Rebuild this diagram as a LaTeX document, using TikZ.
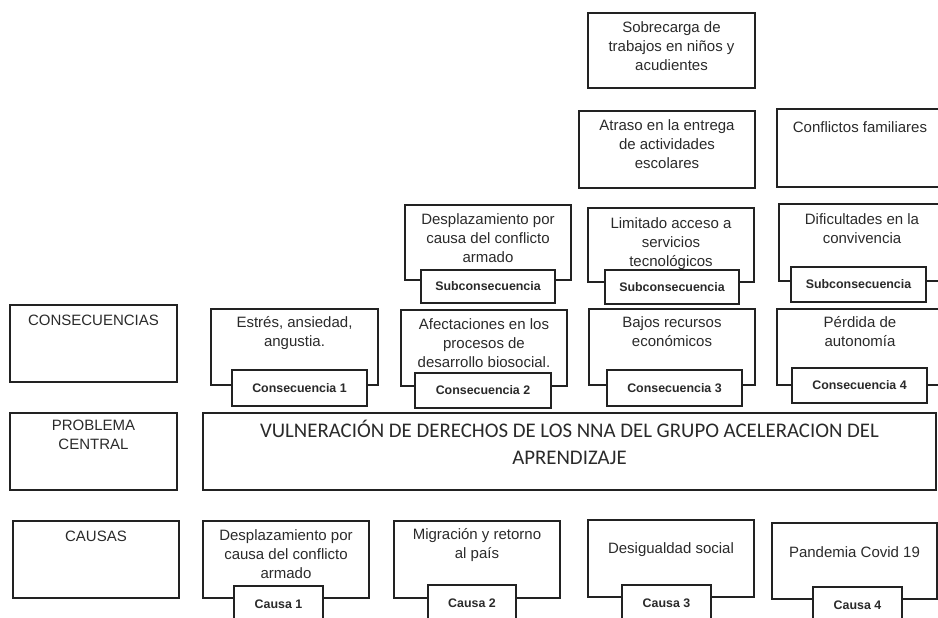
\documentclass[tikz,border=0pt]{standalone}
\usepackage{fontspec}
\setmainfont{Liberation Sans}
\newfontfamily\carlito{Carlito}
\usetikzlibrary{positioning}
\definecolor{trazo}{HTML}{222222}
\definecolor{letra}{HTML}{2a2a2a}
\tikzset{
  caja/.style    = {draw=trazo, line width=1.9pt, inner sep=0pt,
                    minimum width=166pt, minimum height=76pt},
  pestana/.style = {draw=trazo, line width=1.9pt, fill=white, inner sep=0pt,
                    minimum width=135pt, minimum height=35pt,
                    font=\fontsize{12.4}{14}\selectfont\bfseries, text=letra},
  % el primer renglon queda en la linea base del punto dado
  texto/.style   = {anchor=north, yshift=13.3pt, align=center, inner sep=0pt,
                    font=\fontsize{15}{19}\selectfont, text=letra,
                    execute at begin node=\strut},
  titulo/.style  = {anchor=north, yshift=18.9pt, align=center, inner sep=0pt,
                    font=\carlito\fontsize{20.8}{27}\selectfont, text=letra,
                    execute at begin node=\strut}
}

\begin{document}
\begin{tikzpicture}[x=1pt, y=-1pt]
  \useasboundingbox (0,0) rectangle (938,618);
  \clip (0,0) rectangle (938,618);

  % rotulos de la izquierda
  \node[caja, minimum width=167pt, minimum height=77pt] (rcon) at (93.5,343.5) {};
  \node[texto] (rcont) at ([yshift=-21pt]rcon.north) {CONSECUENCIAS};
  \node[caja, minimum width=167pt, minimum height=77pt] (rpro) at (93.5,451.5) {};
  \node[texto] (rprot) at ([yshift=-21pt]rpro.north) {PROBLEMA\\CENTRAL};
  \node[caja, minimum width=166pt, minimum height=77pt] (rcau) at (96,559.5) {};
  \node[texto] (rcaut) at ([yshift=-21pt]rcau.north) {CAUSAS};

  % parte de arriba
  \node[caja, minimum width=167pt, minimum height=75pt] (sobre) at (671.5,50.5) {};
  \node[texto] (sobret) at ([yshift=-23pt]sobre.north) {Sobrecarga de\\trabajos en niños y\\acudientes};
  \node[caja, minimum width=176pt, minimum height=77pt] (atraso) at (667,149.5) {};
  \node[texto] (atrasot) at ([yshift=-23pt]atraso.north) {Atraso en la entrega\\de actividades\\escolares};
  \node[caja, minimum height=78pt] (confl) at (860,148) {};
  \node[texto] (conflt) at ([yshift=-24pt]confl.north) {Conflictos familiares};

  % subconsecuencias
  \node[caja, minimum height=75pt] (sub1) at (488,242.5) {};
  \node[texto] (sub1t) at ([yshift=-23pt]sub1.north) {Desplazamiento por\\causa del conflicto\\armado};
  \node[caja, minimum height=74pt] (sub2) at (671,245) {};
  \node[texto] (sub2t) at ([yshift=-24pt]sub2.north) {Limitado acceso a\\servicios\\tecnológicos};
  \node[caja, minimum height=77pt] (sub3) at (862,242.5) {};
  \node[texto] (sub3t) at ([yshift=-24pt]sub3.north) {Dificultades en la\\convivencia};

  \node[pestana, minimum width=134pt, minimum height=33pt] (sub1p) at (488,286.5) {Subconsecuencia};
  \node[pestana, minimum width=134pt, minimum height=34pt] (sub2p) at (672,287) {Subconsecuencia};
  \node[pestana] (sub3p) at (858.5,284.5) {Subconsecuencia};

  % consecuencias
  \node[caja, minimum width=167pt] (con1) at (294.5,347) {};
  \node[texto] (con1t) at ([yshift=-22pt]con1.north) {Estrés, ansiedad,\\angustia.};
  \node[caja] (con2) at (484,348) {};
  \node[texto] (con2t) at ([yshift=-23pt]con2.north) {Afectaciones en los\\procesos de\\desarrollo biosocial.};
  \node[caja] (con3) at (672,347) {};
  \node[texto] (con3t) at ([yshift=-22pt]con3.north) {Bajos recursos\\económicos};
  \node[caja] (con4) at (860,347) {};
  \node[texto] (con4t) at ([yshift=-22pt]con4.north) {Pérdida de\\autonomía};

  \node[pestana, minimum height=36pt] (con1p) at (299.5,388) {Consecuencia 1};
  \node[pestana, minimum width=136pt] (con2p) at (483,390.5) {Consecuencia 2};
  \node[pestana, minimum height=36pt] (con3p) at (674.5,388) {Consecuencia 3};
  \node[pestana] (con4p) at (859.5,385.5) {Consecuencia 4};

  % problema central
  \node[caja, minimum width=733pt, minimum height=77pt] (prob) at (569.5,451.5) {};
  \node[titulo] (probt) at ([yshift=-27pt]prob.north) {VULNERACIÓN DE DERECHOS DE LOS NNA DEL GRUPO ACELERACION DEL\\APRENDIZAJE};

  % causas
  \node[caja, minimum height=77pt] (cau1) at (286,559.5) {};
  \node[texto] (cau1t) at ([yshift=-23pt]cau1.north) {Desplazamiento por\\causa del conflicto\\armado};
  \node[caja, minimum height=77pt] (cau2) at (477,559.5) {};
  \node[texto] (cau2t) at ([yshift=-22pt]cau2.north) {Migración y retorno\\al país};
  \node[caja, minimum height=77pt] (cau3) at (671,558.5) {};
  \node[texto] (cau3t) at ([yshift=-34pt]cau3.north) {Desigualdad social};
  \node[caja, minimum width=165pt] (cau4) at (854.5,561) {};
  \node[texto] (cau4t) at ([yshift=-35pt]cau4.north) {Pandemia Covid 19};

  \node[pestana, minimum width=89pt, minimum height=36pt] (cau1p) at (278.5,604) {Causa 1};
  \node[pestana, minimum width=88pt, minimum height=36pt] (cau2p) at (472,603) {Causa 2};
  \node[pestana, minimum width=89pt, minimum height=36pt] (cau3p) at (666.5,603) {Causa 3};
  \node[pestana, minimum width=89pt, minimum height=36pt] (cau4p) at (857.5,605) {Causa 4};
\end{tikzpicture}
\end{document}
